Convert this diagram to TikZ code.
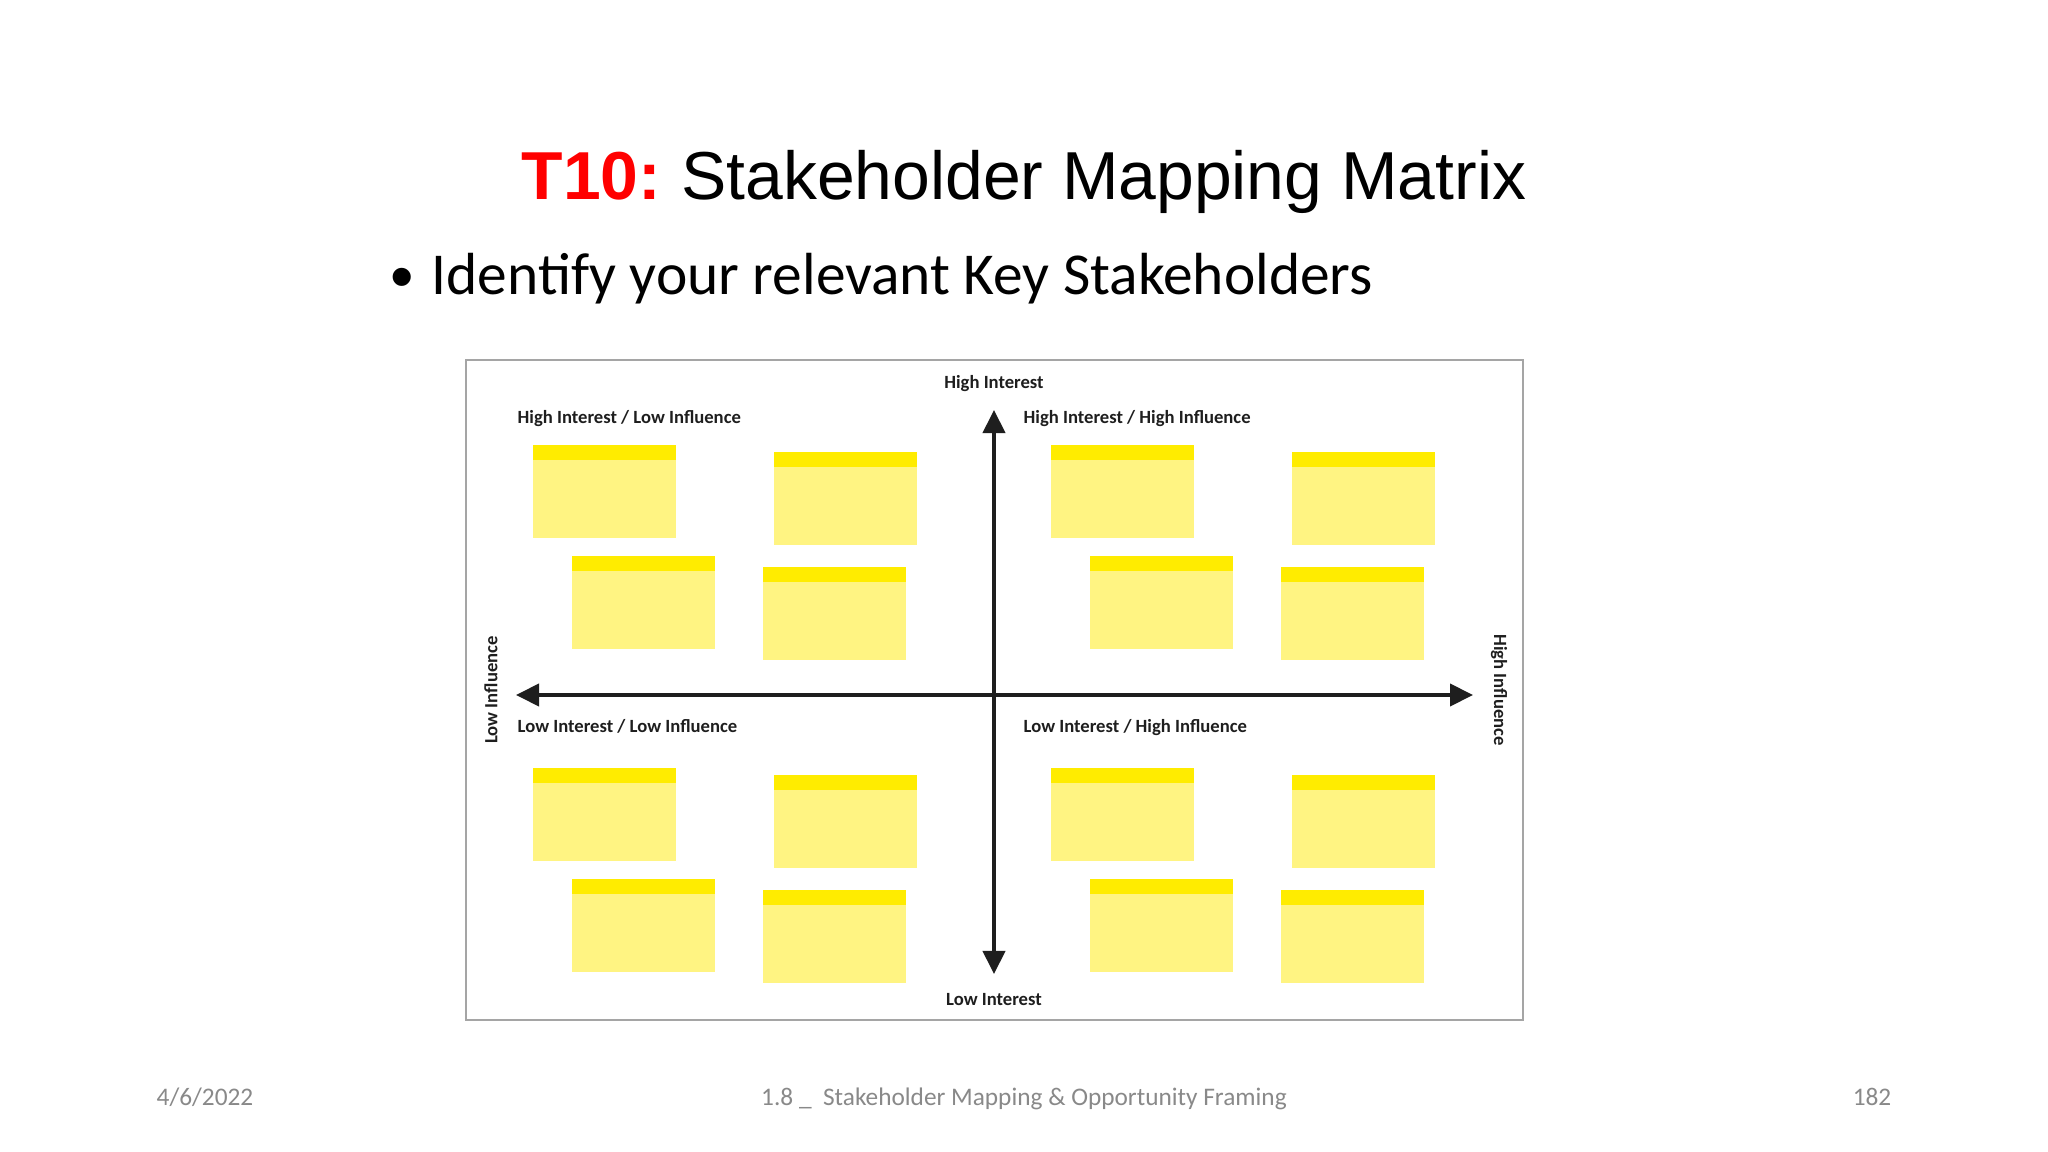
\documentclass[tikz,border=0pt]{standalone}
\usepackage{fontspec}
\setmainfont{Carlito}
\newfontfamily\arialfont{Liberation Sans}
\usetikzlibrary{arrows.meta}

\definecolor{notebody}{RGB}{255,244,130}
\definecolor{notetop}{RGB}{255,236,0}
\definecolor{titlered}{RGB}{255,0,0}
\definecolor{footgray}{RGB}{137,137,137}
\definecolor{framegray}{RGB}{165,165,165}
\definecolor{axisblack}{RGB}{30,30,30}

\tikzset{
  axislabel/.style={font=\fontsize{5.3pt}{6pt}\selectfont\bfseries, text=axisblack, inner sep=0pt},
  quadlabel/.style={axislabel, anchor=base west},
  footer/.style={font=\fontsize{7.2pt}{8pt}\selectfont, text=footgray, inner sep=0pt, anchor=base},
  axis/.style={line width=1.15pt, axisblack,
    {Triangle[length=0.23cm,width=0.22cm]}-{Triangle[length=0.23cm,width=0.22cm]}},
}

% one sticky note, top left corner at (#1,#2)
\newcommand{\sticky}[2]{%
  \fill[notebody] (#1,#2) rectangle ++(143,93);
  \fill[notetop] (#1,#2) rectangle ++(143,15);
}

\begin{document}
\begin{tikzpicture}[x=0.01cm,y=-0.01cm]
  \useasboundingbox[fill=white] (0,0) rectangle (2048,1152);

  % heading
  \node[anchor=base, inner sep=0pt] (title) at (1024,200)
    {\arialfont\fontsize{19.3pt}{23pt}\selectfont\textcolor{titlered}{\bfseries T10:}\hspace{-1.5pt} Stakeholder Mapping Matrix};
  \node[anchor=base, inner sep=0pt] (dot) at (402,300) {\arialfont\fontsize{19pt}{22pt}\selectfont •};
  \node[anchor=base west, inner sep=0pt] (bullet) at (431,295)
    {\fontsize{16.9pt}{20pt}\selectfont Identify your relevant Key Stakeholders};

  % frame
  \draw[framegray, line width=0.6pt] (466,360) rectangle (1523,1020);

  % sticky notes, four per quadrant
  \foreach \dx/\dy in {0/0, 518/0, 0/323, 518/323} {
    \sticky{533+\dx}{445+\dy}
    \sticky{774+\dx}{452+\dy}
    \sticky{572+\dx}{556+\dy}
    \sticky{763+\dx}{567+\dy}
  }

  % axis labels
  \node[axislabel, anchor=base] (hiint) at (994,389) {High Interest};
  \node[axislabel, anchor=base] (loint) at (994,1005) {Low Interest};
  \node[axislabel, rotate=90] (loinf) at (491,690) {Low Influence};
  \node[axislabel, rotate=-90] (hiinf) at (1499,690) {High Influence};

  % quadrant labels
  \node[quadlabel] (hilo) at (517,424) {High Interest / Low Influence};
  \node[quadlabel] (hihi) at (1023,424) {High Interest / High Influence};
  \node[quadlabel] (lolo) at (517,732) {Low Interest / Low Influence};
  \node[quadlabel] (lohi) at (1023,732) {Low Interest / High Influence};

  % axes
  \coordinate (ytop) at (994,410);
  \coordinate (ybot) at (994,974);
  \coordinate (xleft) at (516,695);
  \coordinate (xright) at (1473,695);
  \draw[axis] (ybot) -- (ytop); % interest
  \draw[axis] (xleft) -- (xright); % influence

  % footer
  \node[footer] (date) at (205,1105) {4/6/2022};
  \node[footer] (course) at (1024,1105) {1.8 \_\ \ Stakeholder Mapping \& Opportunity Framing};
  \node[footer] (page) at (1872,1105) {182};
\end{tikzpicture}
\end{document}
